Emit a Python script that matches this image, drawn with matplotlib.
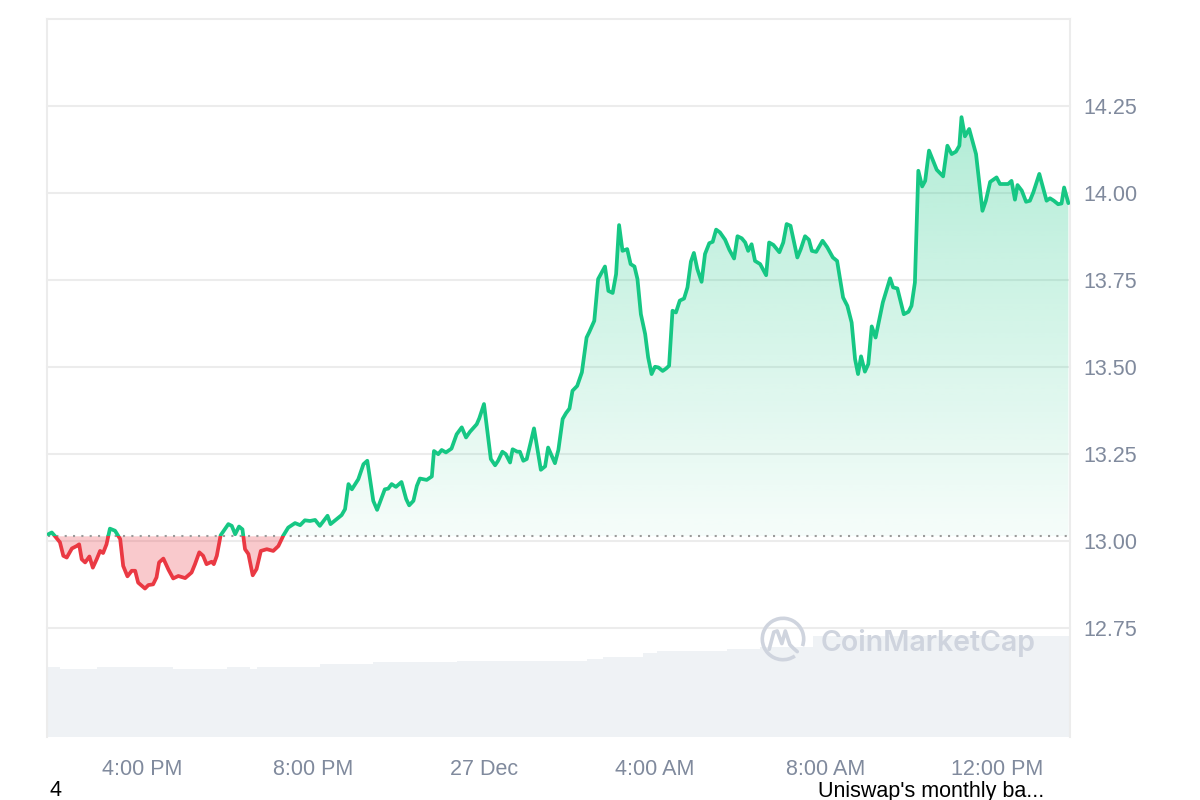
import matplotlib
matplotlib.use("Agg")
import matplotlib.pyplot as plt
import numpy as np
from matplotlib.patches import Rectangle, PathPatch, Arc
from matplotlib.path import Path
from matplotlib.colors import to_rgb

plt.rcParams['font.family'] = ['Liberation Sans', 'DejaVu Sans']

# ---- data (time in hours relative to 00:00, 27 Dec) ----
hours = [-10.19, -10.11, -10.04, -9.92, -9.84, -9.76, -9.64, -9.53, -9.47, -9.41,
         -9.33, -9.23, -9.15, -9.06, -8.98, -8.91, -8.83, -8.75, -8.63, -8.58,
         -8.51, -8.44, -8.34, -8.24, -8.16, -8.09, -7.93, -7.85, -7.74, -7.66,
         -7.60, -7.50, -7.38, -7.27, -7.15, -6.99, -6.84, -6.76, -6.66, -6.57,
         -6.49, -6.37, -6.32, -6.25, -6.16, -5.98, -5.90, -5.82, -5.73, -5.65,
         -5.59, -5.51, -5.41, -5.32, -5.22, -5.08, -4.93, -4.81, -4.69, -4.58,
         -4.42, -4.30, -4.19, -4.07, -3.95, -3.84, -3.66, -3.59, -3.45, -3.33,
         -3.25, -3.17, -3.09, -2.94, -2.82, -2.73, -2.59, -2.50, -2.32, -2.24,
         -2.16, -2.06, -1.93, -1.82, -1.75, -1.65, -1.57, -1.50, -1.34, -1.22,
         -1.17, -1.07, -0.99, -0.89, -0.76, -0.64, -0.52, -0.42, -0.33, -0.17,
         -0.11, 0.00, 0.16, 0.26, 0.33, 0.43, 0.51, 0.61, 0.67, 0.78,
         0.84, 0.92, 1.00, 1.17, 1.33, 1.43, 1.50, 1.66, 1.74, 1.84,
         1.92, 2.00, 2.07, 2.18, 2.29, 2.40, 2.46, 2.58, 2.67, 2.83,
         2.91, 3.01, 3.09, 3.16, 3.24, 3.35, 3.43, 3.52, 3.59, 3.67,
         3.77, 3.84, 3.92, 4.00, 4.08, 4.18, 4.26, 4.33, 4.41, 4.49,
         4.58, 4.68, 4.76, 4.84, 4.91, 4.99, 5.09, 5.17, 5.27, 5.35,
         5.43, 5.52, 5.64, 5.74, 5.85, 5.93, 6.03, 6.11, 6.18, 6.26,
         6.34, 6.46, 6.60, 6.67, 6.77, 6.91, 7.00, 7.08, 7.17, 7.33,
         7.41, 7.51, 7.60, 7.67, 7.77, 7.92, 8.03, 8.16, 8.26, 8.40,
         8.50, 8.60, 8.68, 8.75, 8.82, 8.91, 8.99, 9.07, 9.16, 9.33,
         9.50, 9.57, 9.67, 9.82, 9.93, 10.00, 10.08, 10.16, 10.25, 10.32,
         10.41, 10.59, 10.74, 10.84, 10.94, 11.04, 11.12, 11.17, 11.25, 11.35,
         11.51, 11.66, 11.74, 11.84, 11.99, 12.07, 12.26, 12.34, 12.42, 12.48,
         12.58, 12.68, 12.77, 12.85, 12.99, 13.16, 13.24, 13.33, 13.43, 13.51,
         13.57, 13.67]

prices = [13.020, 13.025, 13.015, 12.997, 12.958, 12.953, 12.979, 12.986, 12.991, 12.948,
          12.939, 12.956, 12.924, 12.948, 12.972, 12.966, 12.991, 13.036, 13.030, 13.020,
          13.006, 12.929, 12.899, 12.915, 12.915, 12.881, 12.864, 12.874, 12.876, 12.896,
          12.939, 12.950, 12.918, 12.893, 12.900, 12.894, 12.910, 12.934, 12.968, 12.958,
          12.934, 12.941, 12.934, 12.958, 13.017, 13.049, 13.044, 13.020, 13.042, 13.034,
          12.977, 12.963, 12.902, 12.920, 12.972, 12.977, 12.972, 12.986, 13.017, 13.039,
          13.052, 13.046, 13.060, 13.058, 13.061, 13.044, 13.073, 13.049, 13.063, 13.075,
          13.092, 13.164, 13.149, 13.178, 13.221, 13.231, 13.116, 13.090, 13.149, 13.151,
          13.164, 13.156, 13.170, 13.121, 13.103, 13.116, 13.159, 13.180, 13.176, 13.186,
          13.259, 13.250, 13.262, 13.255, 13.266, 13.307, 13.327, 13.298, 13.314, 13.336,
          13.353, 13.394, 13.236, 13.218, 13.231, 13.257, 13.250, 13.226, 13.264, 13.257,
          13.257, 13.231, 13.236, 13.324, 13.205, 13.215, 13.269, 13.224, 13.262, 13.351,
          13.368, 13.381, 13.432, 13.446, 13.485, 13.585, 13.600, 13.633, 13.753, 13.789,
          13.719, 13.713, 13.767, 13.908, 13.834, 13.839, 13.796, 13.789, 13.753, 13.652,
          13.595, 13.528, 13.480, 13.501, 13.499, 13.489, 13.496, 13.504, 13.662, 13.657,
          13.691, 13.697, 13.729, 13.803, 13.828, 13.782, 13.745, 13.825, 13.856, 13.860,
          13.895, 13.887, 13.866, 13.837, 13.812, 13.876, 13.870, 13.858, 13.834, 13.853,
          13.805, 13.796, 13.764, 13.858, 13.851, 13.830, 13.858, 13.911, 13.906, 13.815,
          13.839, 13.876, 13.866, 13.834, 13.831, 13.863, 13.844, 13.815, 13.805, 13.700,
          13.676, 13.628, 13.523, 13.480, 13.531, 13.487, 13.509, 13.617, 13.585, 13.686,
          13.755, 13.729, 13.726, 13.652, 13.659, 13.676, 13.743, 14.064, 14.019, 14.035,
          14.122, 14.067, 14.048, 14.136, 14.112, 14.119, 14.136, 14.218, 14.163, 14.184,
          14.112, 13.949, 13.978, 14.032, 14.045, 14.026, 14.026, 14.035, 13.981, 14.023,
          14.007, 13.975, 13.978, 14.002, 14.055, 13.978, 13.985, 13.978, 13.968, 13.970,
          14.016, 13.971]

base_price = 13.014

vol_start = [-10.22, -9.92, -9.05, -7.27, -6.01, -5.47, -5.31, -3.84, -2.60,
             -0.63, 2.41, 2.78, 3.72, 4.05, 5.68, 6.46, 7.70]
vol_end = 13.71
vol_values = [70.3, 68.7, 70.7, 68.7, 70.3, 68.7, 70.7, 73.0, 75.0,
              76.7, 78.7, 80.3, 84.7, 86.3, 88.7, 90.3, 101.0]

y_ticks = [12.75, 13.00, 13.25, 13.50, 13.75, 14.00, 14.25]
grid_levels = [12.75, 13.00, 13.25, 13.50, 13.75, 14.00, 14.25, 14.50]
x_ticks = [-8, -4, 0, 4, 8, 12]
x_labels = ['4:00 PM', '8:00 PM', '27 Dec', '4:00 AM', '8:00 AM', '12:00 PM']

GREEN = '#16c784'
RED = '#ea3943'
GRID = '#ececec'
LABEL = '#808a9d'

xlim = (-10.222, 13.708)
ylim = (12.4375, 14.5)

fig = plt.figure(figsize=(12, 8), dpi=100)
rect = [47 / 1200, 1 - 737 / 800, (1070 - 47) / 1200, (737 - 19) / 800]

# ---- volume ----
vax = fig.add_axes(rect, zorder=0)
edges = vol_start + [vol_end]
widths = np.diff(edges)
vax.bar(vol_start, vol_values, width=widths, align='edge', color='#eff2f5', linewidth=0)
vax.set_xlim(*xlim)
vax.set_ylim(0, max(vol_values) / 0.14)
vax.axis('off')

# ---- price ----
ax = fig.add_axes(rect, zorder=1)
ax.patch.set_visible(False)

h = np.array(hours)
p = np.array(prices)

for g in grid_levels:
    ax.axhline(g, color=GRID, lw=1.5, zorder=1, clip_on=False)

# green gradient fill
gpoly = ax.fill_between(h, p, base_price, where=p >= base_price, interpolate=True,
                        facecolor='none', edgecolor='none')
compound = Path.make_compound_path(*gpoly.get_paths())
clip = PathPatch(compound, transform=ax.transData, facecolor='none', edgecolor='none')
ax.add_patch(clip)
grad = np.zeros((256, 1, 4))
grad[..., :3] = to_rgb(GREEN)
grad[:, 0, 3] = np.linspace(0.33, 0.04, 256)
im = ax.imshow(grad, extent=[h[0], h[-1], base_price, p.max()], aspect='auto',
               origin='upper', zorder=2, interpolation='bilinear')
im.set_clip_path(clip)

# red fill
ax.fill_between(h, p, base_price, where=p < base_price, interpolate=True,
                facecolor=RED, alpha=0.27, linewidth=0, zorder=2)

# baseline
ax.hlines(base_price, h[0], h[-1], colors='#9a9a9a', linestyles=(0, (1, 3)), lw=1.5, zorder=3)

# line, coloured by side of the baseline
LW = 2.7
gl, = ax.plot(h, p, color=GREEN, lw=LW, solid_joinstyle='round', solid_capstyle='round', zorder=4)
gl.set_clip_path(Rectangle((xlim[0], base_price), xlim[1] - xlim[0], 5, transform=ax.transData))
rl, = ax.plot(h, p, color=RED, lw=LW, solid_joinstyle='round', solid_capstyle='round', zorder=4)
rl.set_clip_path(Rectangle((xlim[0], base_price - 5), xlim[1] - xlim[0], 5, transform=ax.transData))

ax.set_xlim(*xlim)
ax.set_ylim(*ylim)

for s in ['top', 'bottom']:
    ax.spines[s].set_visible(False)
for s in ['left', 'right']:
    ax.spines[s].set_color(GRID)
    ax.spines[s].set_linewidth(1.5)

ax.yaxis.tick_right()
ax.set_yticks(y_ticks)
ax.set_yticklabels([f'{v:.2f}' for v in y_ticks])
ax.set_xticks(x_ticks)
ax.set_xticklabels(x_labels)
ax.tick_params(axis='y', length=0, pad=9.5, labelsize=15.5, labelcolor=LABEL)
ax.tick_params(axis='x', length=0, pad=16, labelsize=15.5, labelcolor=LABEL)

# ---- watermark ----
WM = '#cfd4de'
fig.text(821 / 1200, 1 - 643 / 800, 'CoinMarketCap', fontsize=20.5, fontweight='semibold',
         family=['Inter', 'DejaVu Sans'], color=WM, va='center', ha='left', zorder=5)
lax = fig.add_axes([760 / 1200, 1 - 662 / 800, 46 / 1200, 46 / 800], zorder=5)
lax.set_xlim(-1, 1)
lax.set_ylim(-1, 1)
lax.axis('off')
lax.add_patch(Arc((0, 0), 1.8, 1.8, theta1=-20, theta2=305, color=WM, lw=2.6))
wave = Path([(-0.6, -0.45), (-0.4, 0.3), (-0.25, 0.35), (-0.05, -0.2), (0.1, 0.35),
             (0.3, -0.25), (0.45, -0.4), (0.62, -0.55)])
lax.add_patch(PathPatch(wave, facecolor='none', edgecolor=WM, lw=2.6,
                        joinstyle='round', capstyle='round'))

# ---- bottom texts ----
fig.text(50 / 1200, 1 - 791 / 800, '4', fontsize=15.5, color='black', va='center', ha='left')
fig.text(818 / 1200, 1 - 791 / 800, "Uniswap's monthly ba...", fontsize=15.5,
         color='black', va='center', ha='left')

fig.savefig('out.png', dpi=100)
